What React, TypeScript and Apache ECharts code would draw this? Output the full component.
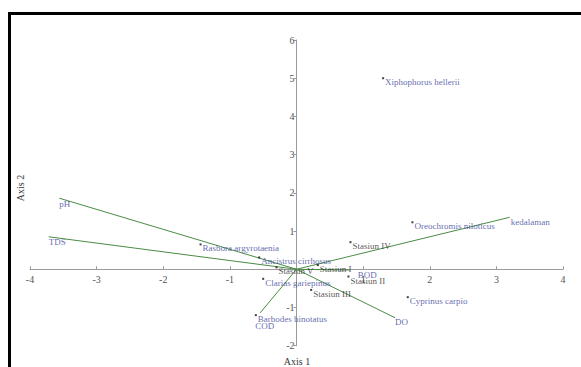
import React, { useEffect, useRef } from "react";
import * as echarts from "echarts";

// Species scores (CCA)
const speciesNames = [
  "Xiphophorus hellerii",
  "Oreochromis niloticus",
  "Cyprinus carpio",
  "Rasbora argyrotaenia",
  "Ancistrus cirrhosus",
  "Clarias gariepinus",
  "Barbodes binotatus",
];
const speciesX = [1.3, 1.74, 1.67, -1.44, -0.56, -0.5, -0.61];
const speciesY = [5.0, 1.23, -0.73, 0.65, 0.31, -0.25, -1.2];

// Site scores
const stationNames = ["Stasiun I", "Stasiun II", "Stasiun III", "Stasiun IV", "Stasiun V"];
const stationX = [0.32, 0.78, 0.22, 0.81, -0.3];
const stationY = [0.11, -0.19, -0.54, 0.71, 0.05];

// Environmental vectors
const envNames = ["pH", "TDS", "kedalaman", "DO", "COD", "BOD"];
const envX = [-3.56, -3.72, 3.2, 1.48, -0.545, 0.8];
const envY = [1.86, 0.85, 1.36, -1.27, -1.14, -0.02];

const xMin = -4;
const xMax = 4;
const yMin = -2;
const yMax = 6;
const tickStep = 1;

const FONT = "'Liberation Serif', 'Times New Roman', serif";
const BLUE = "#3b3f99";
const GREEN = "#4a8c44";

const W = 581;
const H = 367;
const GRID = { left: 30, right: 18, top: 40, bottom: 21.3 };

const envLabelOffset: Record<string, number[]> = {
  pH: [0, 6],
  TDS: [0, 5],
  kedalaman: [1, 5],
  DO: [0, 4],
  COD: [-5, 13],
  BOD: [8, 5],
};

export default function App() {
  const ref = useRef<HTMLDivElement>(null);

  useEffect(() => {
    document.body.style.margin = "0";
    const chart = echarts.init(ref.current!, null, { renderer: "svg" });

    const plotW = W - GRID.left - GRID.right;
    const plotH = H - GRID.top - GRID.bottom;
    // shift axes so they cross at the origin
    const xAxisOffset = -((0 - yMin) / (yMax - yMin)) * plotH;
    const yAxisOffset = -((0 - xMin) / (xMax - xMin)) * plotW;

    const vectorSeries = envNames.map((n, i) => ({
      type: "line",
      name: n,
      data: [
        [0, 0],
        [envX[i], envY[i]],
      ],
      showSymbol: false,
      symbol: "none",
      silent: true,
      lineStyle: { color: GREEN, width: 1 },
      z: 2,
    }));

    const pointLabel = (color: string) => ({
      show: true,
      position: "right",
      distance: 1,
      offset: [0, 4],
      formatter: "{b}",
      color,
      fontFamily: FONT,
      fontSize: 9,
    });

    const option: any = {
      animation: false,
      grid: { ...GRID, containLabel: false },
      xAxis: {
        type: "value",
        position: "bottom",
        offset: xAxisOffset,
        min: xMin,
        max: xMax,
        interval: tickStep,
        axisLine: { onZero: false, lineStyle: { color: "#9a9a9a", width: 1 } },
        axisTick: { show: true, inside: true, length: 3, lineStyle: { color: "#9a9a9a" } },
        axisLabel: {
          margin: 5,
          color: "#555",
          fontFamily: FONT,
          fontSize: 10,
          formatter: (v: number) => (v === 0 ? "" : String(v)),
        },
        splitLine: { show: false },
      },
      yAxis: {
        type: "value",
        position: "left",
        offset: yAxisOffset,
        min: yMin,
        max: yMax,
        interval: tickStep,
        axisLine: { onZero: false, lineStyle: { color: "#9a9a9a", width: 1 } },
        axisTick: { show: true, inside: false, length: 3, lineStyle: { color: "#9a9a9a" } },
        axisLabel: {
          margin: 2,
          color: "#555",
          fontFamily: FONT,
          fontSize: 10,
          formatter: (v: number) => (v === 0 ? "" : String(v)),
        },
        splitLine: { show: false },
      },
      series: [
        ...vectorSeries,
        {
          type: "scatter",
          name: "env",
          symbolSize: 0,
          silent: true,
          z: 3,
          data: envNames.map((n, i) => ({
            name: n,
            value: [envX[i], envY[i]],
            label: { offset: envLabelOffset[n] },
          })),
          label: {
            show: true,
            position: "right",
            distance: 0,
            formatter: "{b}",
            color: BLUE,
            fontFamily: FONT,
            fontSize: 9,
          },
        },
        {
          type: "scatter",
          name: "species",
          symbol: "rect",
          symbolSize: 2,
          itemStyle: { color: "#111" },
          silent: true,
          z: 4,
          data: speciesNames.map((n, i) => ({ name: n, value: [speciesX[i], speciesY[i]] })),
          label: pointLabel(BLUE),
        },
        {
          type: "scatter",
          name: "stations",
          symbol: "rect",
          symbolSize: 2,
          itemStyle: { color: "#111" },
          silent: true,
          z: 4,
          data: stationNames.map((n, i) => ({ name: n, value: [stationX[i], stationY[i]] })),
          label: pointLabel("#2a2a2a"),
        },
      ],
      graphic: [
        {
          type: "rect",
          shape: { x: 9.5, y: 13.5, width: 700, height: 500 },
          style: { fill: "none", stroke: "#000", lineWidth: 3 },
          silent: true,
        },
        {
          type: "text",
          x: 297,
          y: 361,
          style: {
            text: "Axis 1",
            font: `10px ${FONT}`,
            fill: "#333",
            align: "center",
            verticalAlign: "middle",
            textAlign: "center",
            textVerticalAlign: "middle",
          },
          silent: true,
        },
        {
          type: "text",
          x: 20,
          y: 188,
          rotation: Math.PI / 2,
          style: {
            text: "Axis 2",
            font: `10px ${FONT}`,
            fill: "#333",
            align: "center",
            verticalAlign: "middle",
            textAlign: "center",
            textVerticalAlign: "middle",
          },
          silent: true,
        },
      ],
    };

    chart.setOption(option);
    return () => chart.dispose();
  }, []);

  return <div ref={ref} style={{ width: W, height: H }} />;
}
